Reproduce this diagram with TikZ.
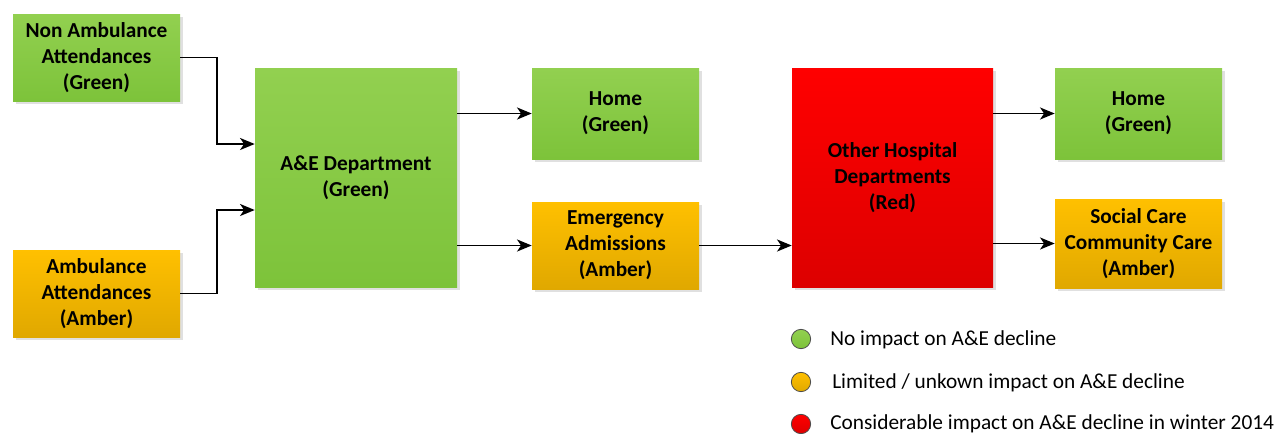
\documentclass[tikz,border=0pt]{standalone}
\usepackage{fontspec}
\setmainfont{Carlito}
\usepackage{tikz}
\usetikzlibrary{calc, arrows.meta, shadows}

\definecolor{greentop}{HTML}{92D050}
\definecolor{greenbot}{HTML}{7DC33A}
\definecolor{ambertop}{HTML}{FFC000}
\definecolor{amberbot}{HTML}{E0A800}
\definecolor{redtop}{HTML}{FF0000}
\definecolor{redbot}{HTML}{DD0000}

\tikzset{
  flowbox/.style={rectangle, inner sep=0.75pt, align=center,
    font=\fontsize{16}{19.5}\selectfont\bfseries,
    drop shadow={shadow xshift=2pt, shadow yshift=-2pt, fill=black, opacity=0.12}},
  greenbox/.style={flowbox, top color=greentop, bottom color=greenbot},
  amberbox/.style={flowbox, top color=ambertop, bottom color=amberbot},
  redbox/.style={flowbox, top color=redtop, bottom color=redbot},
  flowarrow/.style={line width=1.4pt, -{Stealth[length=11pt, width=9pt, inset=3pt]}},
  legdot/.style={circle, minimum size=14.5pt, inner sep=0pt, draw=black!70, line width=0.6pt},
  legtext/.style={anchor=west, inner sep=0.75pt, font=\fontsize{16}{19.5}\selectfont}
}

\begin{document}
\begin{tikzpicture}[x=0.75pt,y=0.75pt,yscale=-1,xscale=1]
  \path[use as bounding box] (0,0) rectangle (1283,433);

  %Shape: Non Ambulance
  \node [greenbox, minimum width=125.25pt, minimum height=65.25pt] (nonamb) at (96.5,57.5) {Non Ambulance\\Attendances\\(Green)};
  %Shape: Ambulance
  \node [amberbox, minimum width=125.25pt, minimum height=65.25pt] (amb) at (96.5,293.5) {Ambulance\\Attendances\\(Amber)};
  %Shape: A&E
  \node [greenbox, minimum width=151.5pt, minimum height=164.25pt] (aed) at (356,177.5) {A\&E Department\\(Green)};
  %Shape: Home (first)
  \node [greenbox, minimum width=125.25pt, minimum height=68.25pt] (homea) at (615.5,113.5) {Home\\(Green)};
  %Shape: Emergency
  \node [amberbox, minimum width=125.25pt, minimum height=65.25pt] (emerg) at (615.5,245.5) {Emergency\\Admissions\\(Amber)};
  %Shape: Other Hospital
  \node [redbox, minimum width=150.75pt, minimum height=164.25pt] (other) at (892.5,177.5) {Other Hospital\\Departments\\(Red)};
  %Shape: Home (second)
  \node [greenbox, minimum width=125.25pt, minimum height=68.25pt] (homeb) at (1138.5,113.5) {Home\\(Green)};
  %Shape: Social Care
  \node [amberbox, minimum width=125.25pt, minimum height=66.75pt] (social) at (1138.5,243.5) {Social Care\\Community Care\\(Amber)};

  % Connectors
  \draw [flowarrow] (nonamb.east) -- ++(37,0) |- ($(aed.west)+(0,-33.5)$);
  \draw [flowarrow] (amb.east) -- ++(37,0) |- ($(aed.west)+(0,32.5)$);
  \draw [flowarrow] (aed.east |- homea.west) -- (homea.west);
  \draw [flowarrow] (aed.east |- emerg.west) -- (emerg.west);
  \draw [flowarrow] (emerg.east) -- (emerg.east -| other.west);
  \draw [flowarrow] (other.east |- homeb.west) -- (homeb.west);
  \draw [flowarrow] (other.east |- social.west) -- (social.west);

  % Legend
  \node [legdot, top color=greentop, bottom color=greenbot] (leggreen) at (801,339) {};
  \node [legdot, top color=ambertop, bottom color=amberbot] (legamber) at (801,382) {};
  \node [legdot, top color=redtop, bottom color=redbot] (legred) at (801,424) {};
  % Text Node
  \node [legtext] (leggreentxt) at (829,340) {No impact on A\&E decline};
  % Text Node
  \node [legtext] (legambertxt) at (831,383) {Limited / unkown impact on A\&E decline};
  % Text Node
  \node [legtext] (legredtxt) at (829,424) {Considerable impact on A\&E decline in winter 2014};
\end{tikzpicture}
\end{document}
